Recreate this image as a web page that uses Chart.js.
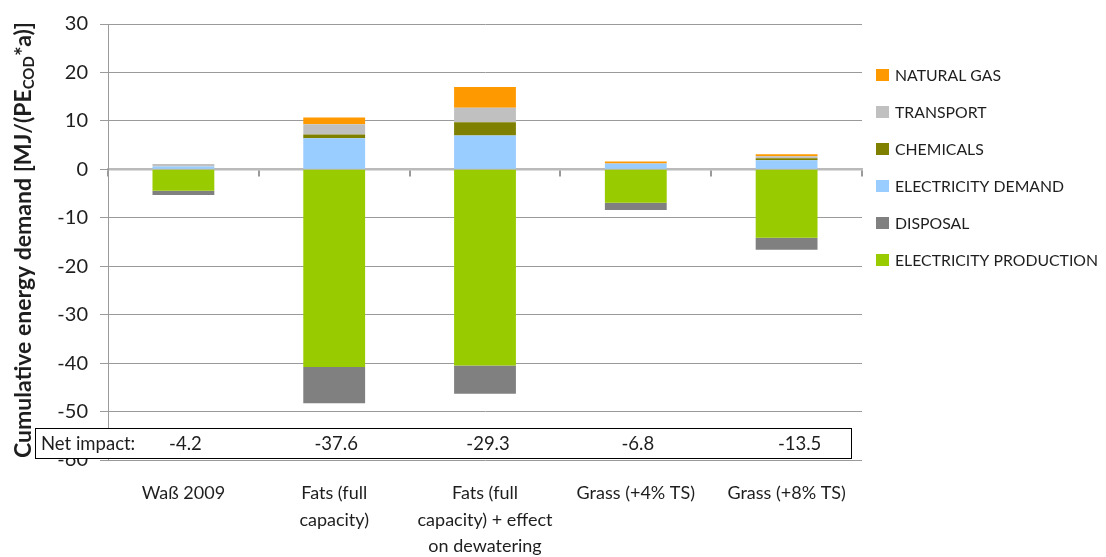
<!DOCTYPE html>
<html>
<head>
<meta charset="utf-8">
<script src="https://cdn.jsdelivr.net/npm/chart.js@4.4.1/dist/chart.umd.min.js"></script>
<style>
  html, body { margin: 0; padding: 0; background: #ffffff; }
  #wrap { width: 1106px; height: 557px; position: relative; }
</style>
</head>
<body>
<div id="wrap"><canvas id="chart"></canvas></div>
<script>
// Scenario names (multi-line labels as arrays)
const categories = [
  'Waß 2009',
  ['Fats (full', 'capacity)'],
  ['Fats (full', 'capacity) + effect', 'on dewatering'],
  'Grass (+4% TS)',
  'Grass (+8% TS)'
];

// Contributions to cumulative energy demand, MJ/(PE_COD*a)
const electricityProduction = [-4.4, -40.8, -40.5, -6.9, -14.1];
const disposal              = [-0.9,  -7.5,  -5.8, -1.5,  -2.5];
const electricityDemand     = [ 0.6,   6.4,   7.0,  1.2,   1.9];
const chemicals             = [ 0.0,   0.8,   2.7,  0.0,   0.4];
const transport             = [ 0.5,   2.1,   3.0,  0.0,   0.4];
const naturalGas            = [ 0.0,   1.4,   4.3,  0.4,   0.4];

// Net impact per scenario (sum of all contributions)
const netImpact = [-4.2, -37.6, -29.3, -6.8, -13.5];

// Value axis range and step
const yMin = -60;
const yMax = 30;
const yStep = 10;

const FONT = 'Lato, "Open Sans", sans-serif';
const TEXT = '#1e1e1e';
const GRID = '#9a9a9a';

// Rotated value-axis title with a subscript part
const yTitlePlugin = {
  id: 'yTitleWithSub',
  afterDraw(chart) {
    const ctx = chart.ctx;
    const parts = [
      { text: 'Cumulative energy demand [MJ/(PE', sub: false },
      { text: 'COD', sub: true },
      { text: '*a)]', sub: false }
    ];
    const mainFont = 'bold 23px ' + FONT;
    const subFont = 'bold 15px ' + FONT;
    ctx.save();
    let total = 0;
    parts.forEach(p => {
      ctx.font = p.sub ? subFont : mainFont;
      p.w = ctx.measureText(p.text).width;
      total += p.w;
    });
    const area = chart.chartArea;
    ctx.translate(24, (area.top + area.bottom) / 2 - 2);
    ctx.rotate(-Math.PI / 2);
    ctx.fillStyle = TEXT;
    ctx.textBaseline = 'middle';
    ctx.textAlign = 'left';
    let x = -total / 2;
    parts.forEach(p => {
      ctx.font = p.sub ? subFont : mainFont;
      ctx.fillText(p.text, x, p.sub ? 5 : 0);
      x += p.w;
    });
    ctx.restore();
  }
};

// Boxed "Net impact" row across the lower part of the plot
const netImpactPlugin = {
  id: 'netImpactRow',
  afterDraw(chart) {
    const ctx = chart.ctx;
    const xs = chart.scales.x;
    const textShift = [2, 2, 3, 2, 13];
    const top = 428, height = 30, left = 35, right = 851;
    ctx.save();
    ctx.fillStyle = '#ffffff';
    ctx.fillRect(left, top, right - left, height);
    ctx.strokeStyle = '#000000';
    ctx.lineWidth = 1;
    ctx.strokeRect(left + 0.5, top + 0.5, right - left, height);
    ctx.fillStyle = TEXT;
    ctx.font = '18.5px ' + FONT;
    ctx.textBaseline = 'middle';
    ctx.textAlign = 'left';
    ctx.fillText('Net impact:', 41, top + height / 2 + 1);
    ctx.textAlign = 'center';
    netImpact.forEach((v, i) => {
      ctx.fillText(v.toFixed(1), xs.getPixelForValue(i) + textShift[i], top + height / 2 + 1);
    });
    ctx.restore();
  }
};

// Legend column on the right, top entry = last dataset
const sideLegendPlugin = {
  id: 'sideLegend',
  afterDraw(chart) {
    const ctx = chart.ctx;
    const items = chart.data.datasets.slice().reverse();
    ctx.save();
    ctx.font = '15.8px ' + FONT;
    ctx.textBaseline = 'middle';
    ctx.textAlign = 'left';
    items.forEach((ds, i) => {
      const cy = 75 + i * 37;
      ctx.fillStyle = ds.backgroundColor;
      ctx.fillRect(876, cy - 6, 13, 12);
      ctx.fillStyle = TEXT;
      ctx.fillText(ds.label, 895, cy + 1);
    });
    ctx.restore();
  }
};

const bar = (label, data, color) => ({
  label, data,
  backgroundColor: color,
  borderWidth: 0,
  categoryPercentage: 1.0,
  barPercentage: 0.41,
  xAxisID: 'x'
});

new Chart(document.getElementById('chart'), {
  type: 'bar',
  data: {
    labels: categories,
    datasets: [
      bar('ELECTRICITY PRODUCTION', electricityProduction, '#99CC00'),
      bar('DISPOSAL', disposal, '#808080'),
      bar('ELECTRICITY DEMAND', electricityDemand, '#99CCFF'),
      bar('CHEMICALS', chemicals, '#808000'),
      bar('TRANSPORT', transport, '#C0C0C0'),
      bar('NATURAL GAS', naturalGas, '#FF9900')
    ]
  },
  options: {
    responsive: true,
    maintainAspectRatio: false,
    animation: false,
    layout: { padding: { top: 22, right: 244, bottom: 0, left: 0 } },
    plugins: {
      legend: { display: false },
      tooltip: { enabled: false }
    },
    scales: {
      x: {
        stacked: true,
        offset: true,
        grid: { display: false, drawTicks: false, offset: true },
        border: { display: false },
        ticks: {
          color: TEXT,
          padding: 20,
          maxRotation: 0,
          autoSkip: false,
          font: { family: FONT, size: 18, lineHeight: 1.47 }
        },
        afterFit(scale) { scale.height = 97; }
      },
      x0: {
        type: 'category',
        position: { y: 0 },
        offset: true,
        z: 1,
        grid: {
          display: true,
          offset: true,
          drawOnChartArea: false,
          drawTicks: true,
          tickLength: 6,
          tickColor: '#9a9a9a',
          lineWidth: 2
        },
        border: { display: true, color: 'rgba(140,140,140,0.6)', width: 2.5 },
        ticks: { display: false }
      },
      y: {
        stacked: true,
        min: yMin,
        max: yMax,
        ticks: {
          stepSize: yStep,
          color: TEXT,
          padding: 12,
          font: { family: FONT, size: 20 }
        },
        grid: {
          color: ctx => (ctx.tick && ctx.tick.value === 0) ? 'rgba(0,0,0,0)' : GRID,
          tickColor: GRID,
          tickLength: 8,
          lineWidth: 1
        },
        border: { display: true, color: GRID, width: 1 },
        afterFit(scale) { scale.width = 108; }
      }
    }
  },
  plugins: [yTitlePlugin, netImpactPlugin, sideLegendPlugin]
});
</script>
</body>
</html>
